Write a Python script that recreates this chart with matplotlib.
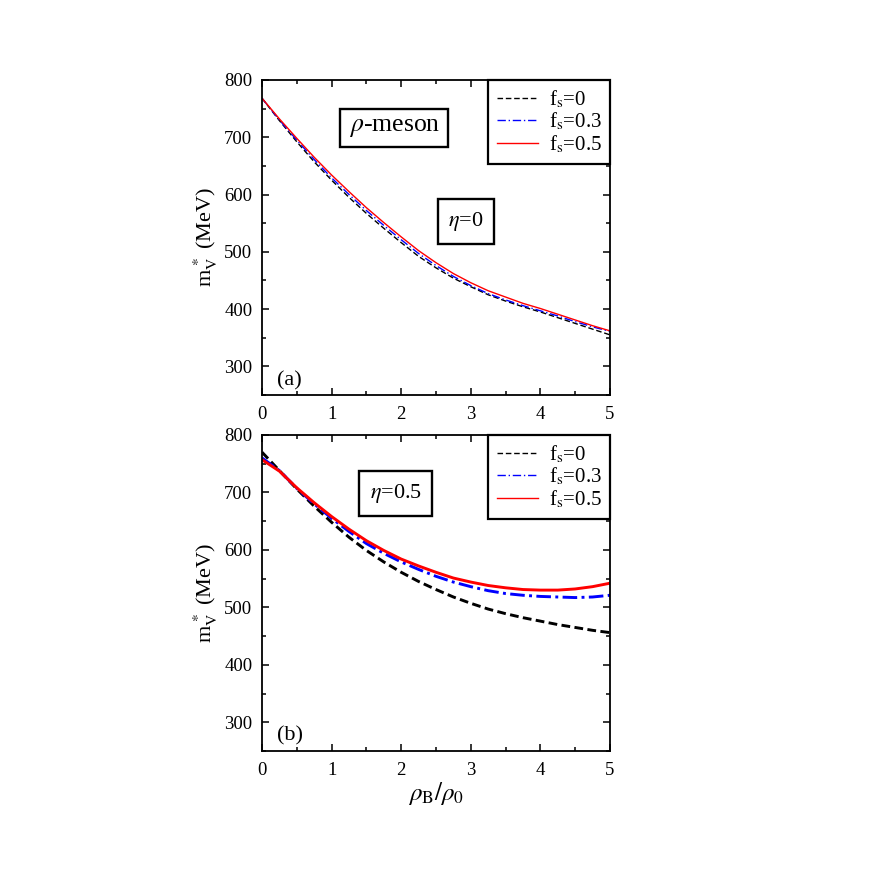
import numpy as np
import matplotlib
matplotlib.use("Agg")
import matplotlib.pyplot as plt
from matplotlib.ticker import MultipleLocator

plt.rcParams['font.family'] = ['Liberation Serif', 'DejaVu Serif']
plt.rcParams['mathtext.fontset'] = 'stix'

# rho_B / rho_0
x = [0, 0.25, 0.5, 0.75, 1, 1.25, 1.5, 1.75, 2, 2.25, 2.5,
     2.75, 3, 3.25, 3.5, 3.75, 4, 4.25, 4.5, 4.75, 5]

# (a) eta = 0
fs0_a = [768, 729, 692, 657, 625, 595, 567, 541, 516, 492, 472,
         454, 439, 425, 414, 404, 395, 385, 375, 365, 355]
fs03_a = [768, 730, 695, 661, 629, 600, 572, 546, 521, 497, 476,
          457, 441, 427, 416, 406, 397, 388, 378, 369, 361]
fs05_a = [768, 732, 698, 665, 634, 605, 577, 551, 526, 502, 481,
          462, 446, 432, 421, 410, 401, 391, 381, 371, 362]

# (b) eta = 0.5
fs0_b = [770, 738, 706, 676, 648, 622, 599, 579, 561, 545, 531,
         518, 507, 497, 489, 482, 476, 470, 465, 460, 456]
fs03_b = [760, 738, 707, 680, 655, 632, 611, 594, 579, 566, 554,
          544, 536, 529, 524, 521, 519, 518, 517, 518, 521]
fs05_b = [757, 737, 708, 682, 658, 636, 616, 599, 584, 572, 561,
          551, 544, 538, 534, 531, 530, 530, 532, 536, 542]

labels = [r'f$_{\rm s}$=0', r'f$_{\rm s}$=0.3', r'f$_{\rm s}$=0.5']

fig = plt.figure(figsize=(8.72, 8.71), dpi=100)
ax1 = fig.add_axes([0.3005, 0.5465, 0.399, 0.3617])
ax2 = fig.add_axes([0.3005, 0.1378, 0.399, 0.3628])


def style_axes(ax):
    ax.set_xlim(0, 5)
    ax.set_ylim(250, 800)
    ax.xaxis.set_major_locator(MultipleLocator(1))
    ax.xaxis.set_minor_locator(MultipleLocator(0.5))
    ax.yaxis.set_minor_locator(MultipleLocator(50))
    ax.set_yticks([300, 400, 500, 600, 700, 800])
    ax.tick_params(which='both', direction='in', top=True, right=True,
                   labelsize=13.5, width=1.1)
    ax.tick_params(axis='y', which='major', pad=7)
    ax.tick_params(axis='x', which='major', pad=8)
    ax.tick_params(which='major', length=5)
    ax.tick_params(which='minor', length=3)
    for s in ax.spines.values():
        s.set_linewidth(1.3)
    ax.set_ylabel(r'm$^{\,*}_{\rm V}$ (MeV)', fontsize=16, labelpad=3)


def boxed(ax, xx, yy, txt, size, pad):
    ax.text(xx, yy, txt, fontsize=size, ha='center', va='center',
            bbox=dict(boxstyle='square,pad=%s' % pad, fc='white', ec='black', lw=1.7))


def add_legend(ax, handles):
    leg = ax.legend(handles=handles, labels=labels, loc='upper right', fontsize=15,
                    frameon=True, fancybox=False, edgecolor='black',
                    handlelength=2.0, handletextpad=0.5, borderaxespad=0.0,
                    labelspacing=0.05, borderpad=0.4, framealpha=1)
    leg.get_frame().set_linewidth(1.6)
    return leg


lw_a = 1.0
h1 = ax1.plot(x, fs0_a, color='black', ls=(0, (4, 2)), lw=lw_a)[0]
h2 = ax1.plot(x, fs03_a, color='blue', ls=(0, (6, 2, 1, 2)), lw=lw_a)[0]
h3 = ax1.plot(x, fs05_a, color='red', ls='-', lw=lw_a)[0]
style_axes(ax1)
boxed(ax1, 1.9, 716, r'$\rho$-meson', 18.5, 0.32)
boxed(ax1, 2.93, 553, r'$\eta$=0', 16, 0.48)
ax1.text(0.22, 274, '(a)', fontsize=16, va='center')
add_legend(ax1, [h1, h2, h3])

lw_b = 2.1
ax2.plot(x, fs0_b, color='black', ls=(0, (3, 1.5)), lw=lw_b)
ax2.plot(x, fs03_b, color='blue', ls=(0, (5, 1.5, 1, 1.5)), lw=lw_b)
ax2.plot(x, fs05_b, color='red', ls='-', lw=lw_b)
style_axes(ax2)
boxed(ax2, 1.92, 698, r'$\eta$=0.5', 16, 0.48)
ax2.text(0.22, 277, '(b)', fontsize=16, va='center')
add_legend(ax2, [
    plt.Line2D([], [], color='black', ls=(0, (4, 2)), lw=1.0),
    plt.Line2D([], [], color='blue', ls=(0, (6, 2, 1, 2)), lw=1.0),
    plt.Line2D([], [], color='red', ls='-', lw=1.0)])
ax2.set_xlabel(r'$\rho_{\rm B}/\rho_0$', fontsize=18, labelpad=1)

fig.savefig('out.png', dpi=100)
